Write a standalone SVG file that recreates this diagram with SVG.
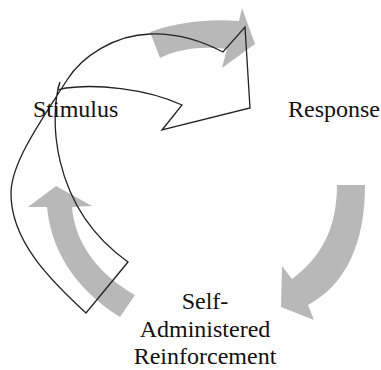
<svg xmlns="http://www.w3.org/2000/svg" width="381" height="370" viewBox="0 0 381 370">
  <style>
    .cycle { fill: #b8b8b8; stroke: none; }
    .outline { fill: none; stroke: #222; stroke-width: 1.3; stroke-linejoin: miter; }
    .label { font-family: "Liberation Serif", "Times New Roman", serif; font-size: 24px; fill: #111; }
  </style>

  <!-- grey cycle arrows -->
  <g id="connectors">
    <path id="arrow-stimulus-response" class="cycle"
          d="M150,32 C170,24 205,18 239,21 L242,8 L255,44 L222,68 L227,49 C205,46 180,48 160,58 Z"/>
    <path id="arrow-response-reinforcement" class="cycle"
          d="M337,185 L365,185 C365,245 345,285 308,305 L314,320 L281,307 L282,266 L292,279 C320,258 337,230 337,185 Z"/>
    <path id="arrow-reinforcement-stimulus" class="cycle"
          d="M56,186 L92,206 L72,207 C75,245 100,275 135,295 L120,317 C85,295 52,260 47,207 L28,207 Z"/>
  </g>

  <!-- large outlined curved arrow -->
  <g id="feedback-arrow">
    <path class="outline"
          d="M86,313 C50,280 10,240 11,192 C12,160 45,115 67,80 C82,56 115,35 150,34 C175,33 200,40 223,52 L245,27 L250,108 L162,130 L182,105 C145,88 95,84 66,88 C58,89 56,93 60,82 C50,112 48,205 128,262 Z"/>
  </g>

  <g id="node-stimulus">
    <text class="label" x="33" y="117">Stimulus</text>
  </g>
  <g id="node-response">
    <text class="label" x="288" y="117">Response</text>
  </g>
  <g id="node-reinforcement">
    <text class="label" text-anchor="middle" x="205" y="309">Self-</text>
    <text class="label" text-anchor="middle" x="205" y="337">Administered</text>
    <text class="label" text-anchor="middle" x="205" y="364">Reinforcement</text>
  </g>
</svg>
